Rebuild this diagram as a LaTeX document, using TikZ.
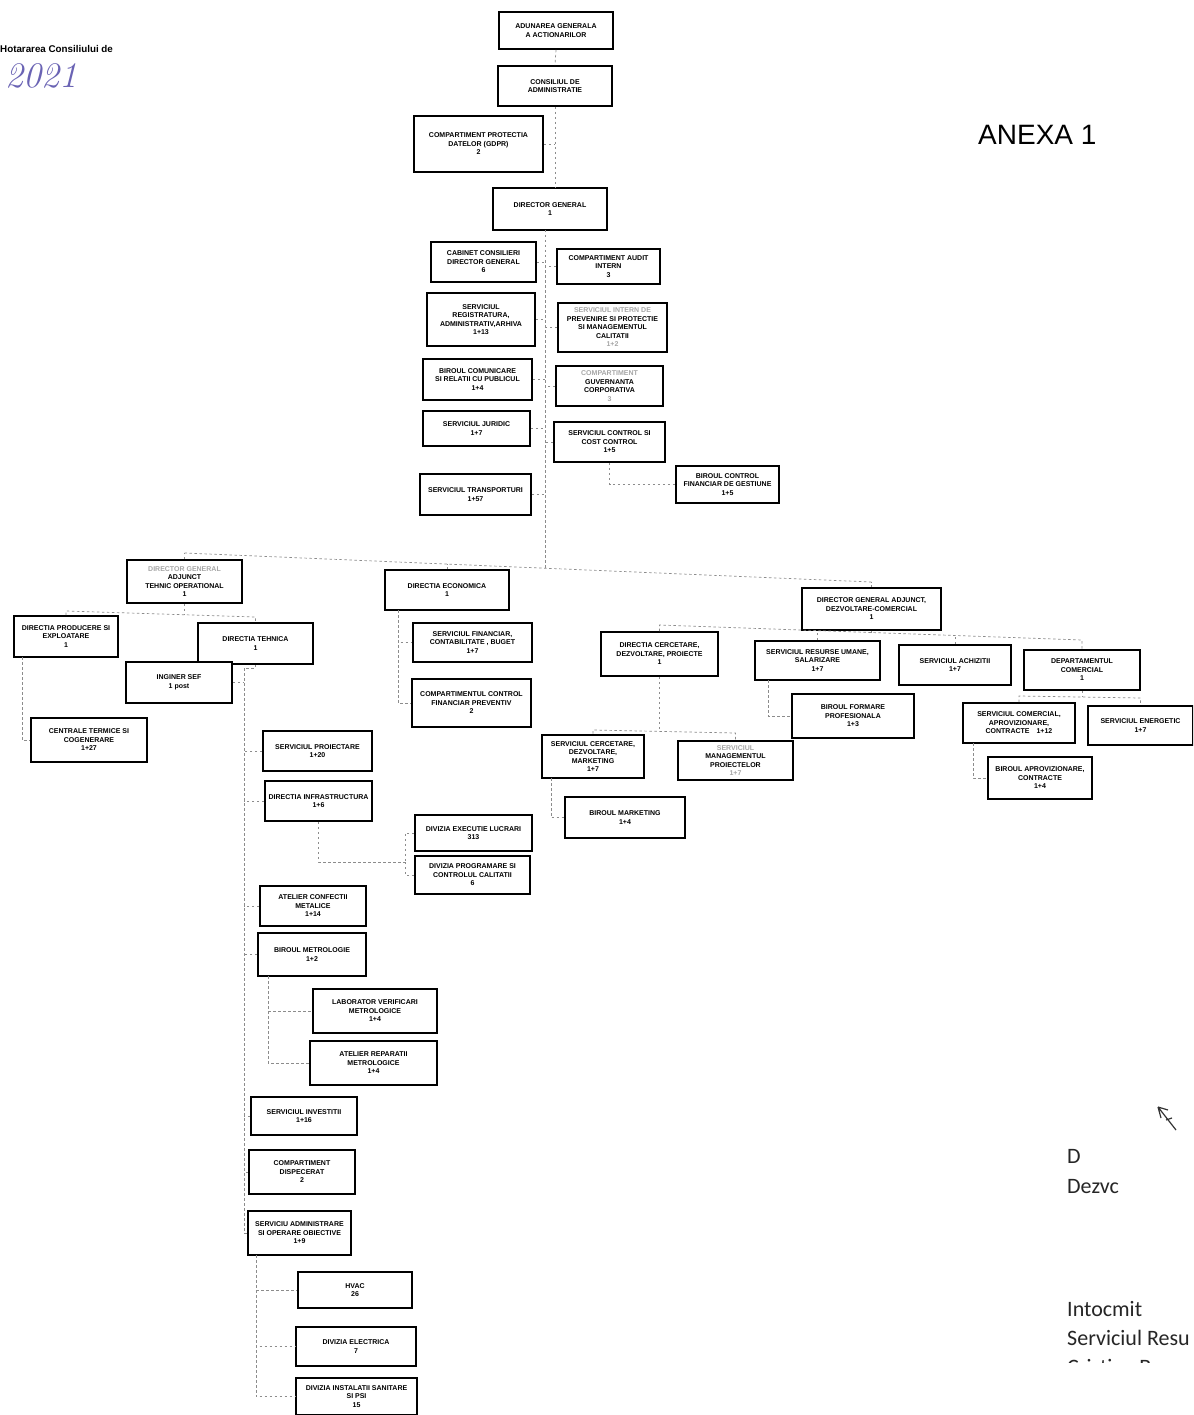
\documentclass[tikz,border=0pt]{standalone}
\usepackage{fontspec}
\newfontfamily\arial{Liberation Sans}
\newfontfamily\calib{Carlito}
\definecolor{hand}{HTML}{6A63B4}
\tikzset{
  box/.style={draw=black, line width=1.8pt, fill=white, align=center, inner sep=1pt,
    font=\arial\bfseries\fontsize{7}{8.5}\selectfont, text=black},
  thickbox/.style={box, line width=2.8pt},
  link/.style={draw=black!45, line width=0.7pt, dash pattern=on 2.5pt off 2.5pt},
  sidetext/.style={anchor=base west, inner sep=0pt, font=\calib\fontsize{22}{26}\selectfont, text=black!85}
}
\newcommand\bx[7][]{\node[box,#1, minimum width=#5pt, minimum height=#6pt] (#2) at (#3,#4) {#7};}
\newcommand\fd[1]{{\color{black!35}#1}}
\begin{document}
\begin{tikzpicture}[x=1pt,y=-1pt]
\fill[white] (0,0) rectangle (1193,1415);
\useasboundingbox (0,0) rectangle (1193,1415);
\begin{scope}
\clip (0,0) rectangle (1193,1415);
% header texts
\node[anchor=base west, inner sep=0pt, font=\arial\bfseries\fontsize{9.8}{11}\selectfont] (hot) at (0,53) {Hotararea Consiliului de};
\node[anchor=west, inner sep=0pt, text=hand, font=\itshape\fontsize{36}{36}\selectfont] (yr) at (5,76) {2021};
\node[anchor=base west, inner sep=0pt, font=\arial\fontsize{28}{30}\selectfont] (anexa) at (978,145) {ANEXA 1};
% top chain
\bx{aga}{556}{30.5}{114}{37}{ADUNAREA GENERALA\\A ACTIONARILOR}
\bx{ca}{555}{86}{114}{40}{CONSILIUL DE\\ADMINISTRATIE}
\bx{gdpr}{478.5}{144}{129}{56}{COMPARTIMENT PROTECTIA\\DATELOR (GDPR)\\2}
\bx{dg}{550}{209}{114}{42}{DIRECTOR GENERAL\\1}
% left column under DG
\bx{cab}{483.5}{262}{105}{40}{CABINET CONSILIERI\\DIRECTOR GENERAL\\6}
\bx{reg}{481}{319.5}{108}{53}{SERVICIUL\\REGISTRATURA,\\ADMINISTRATIV,ARHIVA\\1+13}
\bx{com}{477.5}{379.5}{109}{41}{BIROUL COMUNICARE\\SI RELATII CU PUBLICUL\\1+4}
\bx{jur}{476.5}{428.5}{107}{35}{SERVICIUL JURIDIC\\1+7}
\bx{trans}{475.5}{494.5}{111}{41}{SERVICIUL TRANSPORTURI\\1+57}
% right column under DG
\bx{audit}{608.5}{266.5}{103}{35}{COMPARTIMENT AUDIT\\INTERN\\3}
\bx{prev}{612.5}{327.5}{109}{49}{\fd{SERVICIUL INTERN DE}\\PREVENIRE SI PROTECTIE\\SI MANAGEMENTUL\\CALITATII\\\fd{1+2}}
\bx{guv}{609.5}{386}{107}{40}{\fd{COMPARTIMENT}\\GUVERNANTA\\CORPORATIVA\\\fd{3}}
\bx{cost}{609.5}{442}{111}{40}{SERVICIUL CONTROL SI\\COST CONTROL\\1+5}
\bx{bcf}{727.5}{484.5}{103}{37}{BIROUL CONTROL\\FINANCIAR DE GESTIUNE\\1+5}
% second level
\bx{dgat}{184.5}{581.5}{115}{43}{\fd{DIRECTOR GENERAL}\\ADJUNCT\\TEHNIC OPERATIONAL\\1}
\bx{econ}{447}{590}{124}{40}{DIRECTIA ECONOMICA\\1}
\bx{dgad}{871.5}{609}{139}{42}{DIRECTOR GENERAL ADJUNCT,\\DEZVOLTARE-COMERCIAL\\1}
% technical branch
\bx{prod}{66}{636.5}{104}{41}{DIRECTIA PRODUCERE SI\\EXPLOATARE\\1}
\bx{teh}{255.5}{643.5}{115}{41}{DIRECTIA TEHNICA\\1}
\bx{ing}{179}{682.5}{106}{41}{INGINER SEF\\1 post}
\bx{cent}{89}{740}{116}{44}{CENTRALE TERMICE SI\\COGENERARE\\1+27}
\bx{proi}{317.5}{751}{109}{40}{SERVICIUL PROIECTARE\\1+20}
\bx{infra}{318.5}{801}{107}{40}{DIRECTIA INFRASTRUCTURA\\1+6}
\bx{dex}{473.5}{833}{117}{36}{DIVIZIA EXECUTIE LUCRARI\\313}
\bx{dpc}{472.5}{875}{115}{38}{DIVIZIA PROGRAMARE SI\\CONTROLUL CALITATII\\6}
\bx{acm}{313}{906}{106}{40}{ATELIER CONFECTII\\METALICE\\1+14}
\bx{bmet}{312}{954.5}{108}{43}{BIROUL METROLOGIE\\1+2}
\bx{lab}{375}{1011}{124}{44}{LABORATOR VERIFICARI\\METROLOGICE\\1+4}
\bx{arm}{373.5}{1063}{127}{44}{ATELIER REPARATII\\METROLOGICE\\1+4}
\bx{inv}{304}{1116}{106}{38}{SERVICIUL INVESTITII\\1+16}
\bx{disp}{302}{1172}{106}{44}{COMPARTIMENT\\DISPECERAT\\2}
\bx{adm}{299.5}{1233}{103}{44}{SERVICIU ADMINISTRARE\\SI OPERARE OBIECTIVE\\1+9}
\bx{hvac}{355}{1290}{114}{36}{HVAC\\26}
\bx{elec}{356}{1346.5}{120}{39}{DIVIZIA ELECTRICA\\7}
\bx{san}{356.5}{1396.5}{121}{37}{DIVIZIA INSTALATII SANITARE\\SI PSI\\15}
% economic branch
\bx{fin}{472.5}{642.5}{119}{39}{SERVICIUL FINANCIAR,\\CONTABILITATE , BUGET\\1+7}
\bx{cfp}{471.5}{703}{119}{48}{COMPARTIMENTUL CONTROL\\FINANCIAR PREVENTIV\\2}
% development-commercial branch
\bx{cerc}{659.5}{654}{117}{44}{DIRECTIA CERCETARE,\\DEZVOLTARE, PROIECTE\\1}
\bx{ru}{817.5}{660.5}{125}{39}{SERVICIUL RESURSE UMANE,\\SALARIZARE\\1+7}
\bx{ach}{955}{665}{112}{40}{SERVICIUL ACHIZITII\\1+7}
\bx{dep}{1082}{670}{116}{40}{DEPARTAMENTUL\\COMERCIAL\\1}
\bx{form}{853}{716}{122}{44}{BIROUL FORMARE\\PROFESIONALA\\1+3}
\bx{scom}{1019}{723}{112}{40}{SERVICIUL COMERCIAL,\\APROVIZIONARE,\\CONTRACTE\quad 1+12}
\bx{ener}{1140.5}{725.5}{105}{39}{SERVICIUL ENERGETIC\\1+7}
\bx{aprov}{1040}{778}{104}{42}{BIROUL APROVIZIONARE,\\CONTRACTE\\1+4}
\bx[thickbox]{scm}{593}{756.5}{102}{43}{SERVICIUL CERCETARE,\\DEZVOLTARE,\\MARKETING\\1+7}
\bx{mp}{735.5}{760.5}{115}{39}{\fd{SERVICIUL}\\MANAGEMENTUL\\PROIECTELOR\\\fd{1+7}}
\bx{bm}{625}{817.5}{120}{41}{BIROUL MARKETING\\1+4}
% ---------- connectors ----------
\draw[link] (aga.south) -- (ca.north);
\draw[link] (ca.south) -- (ca.south |- dg.north);
\draw[link] (gdpr.east) -- (gdpr.east -| ca.south);
\coordinate (tt) at (545,230);
\coordinate (tb) at (545,568);
\draw[link] (tt) -- (tb);
\foreach \n in {cab,reg,com,jur,trans} \draw[link] (\n.east) -- (\n.east -| tt);
\foreach \n in {audit,prev,guv,cost} \draw[link] (\n.west) -- (\n.west -| tt);
\draw[link] (cost.south) |- (bcf.west);
\coordinate (bl) at (184.5,553);
\coordinate (br) at (871.5,582);
\draw[link] (bl) -- (br);
\draw[link] (dgat.north) -- (bl);
\coordinate (be) at (447,564);
\draw[link] (econ.north) -- (be);
\draw[link] (dgad.north) -- (br);
% technical subtree
\coordinate (dl) at (66,611);
\coordinate (dr) at (255.5,617);
\coordinate (dm) at (184.5,615);
\draw[link] (prod.north) -- (dl) -- (dr) -- (teh.north);
\draw[link] (dgat.south) -- (dm);
\coordinate (pv) at (22,657);
\draw[link] (pv) |- (cent.west);
\coordinate (tv) at (244,668);
\draw[link] (teh.south) |- (tv) -- (tv |- adm.west) -- (adm.west);
\foreach \n in {proi,infra,acm,bmet,inv,disp} \draw[link] (\n.west) -- (\n.west -| tv);
\draw[link] (ing.east) -- (ing.east -| tv);
\coordinate (iv) at (405,862);
\draw[link] (infra.south) |- (iv);
\draw[link] (dex.west) -| (iv);
\draw[link] (dpc.west) -| (iv);
\coordinate (mv) at (268,976);
\draw[link] (mv) |- (lab.west);
\draw[link] (mv) |- (arm.west);
\coordinate (av) at (256,1255);
\draw[link] (av) |- (hvac.west);
\draw[link] (av) |- (elec.west);
\draw[link] (av) |- (san.west);
% economic subtree
\coordinate (ev) at (398,610);
\draw[link] (ev) |- (fin.west);
\draw[link] (ev) |- (cfp.west);
% development-commercial subtree
\coordinate (dl2) at (659.5,625);
\coordinate (dr2) at (1082,640);
\draw[link] (cerc.north) -- (dl2) -- (dr2) -- (dep.north);
\coordinate (dm2) at (871.5,632.5);
\draw[link] (dgad.south) -- (dm2);
\coordinate (bru) at (817.5,630.6);
\draw[link] (ru.north) -- (bru);
\coordinate (bach) at (955,635.5);
\draw[link] (ach.north) -- (bach);
\coordinate (cbl) at (593,730);
\coordinate (cbr) at (735.5,733);
\coordinate (cb) at (659.5,731.4);
\draw[link] (scm.north) -- (cbl) -- (cbr) -- (mp.north);
\draw[link] (cerc.south) -- (cb);
\coordinate (sv) at (551,778);
\draw[link] (sv) |- (bm.west);
\coordinate (rv) at (768,680);
\draw[link] (rv) |- (form.west);
\coordinate (dpl) at (1019,696);
\coordinate (dpr) at (1140.5,698);
\coordinate (dpb) at (1082,697);
\draw[link] (scom.north) -- (dpl) -- (dpr) -- (ener.north);
\draw[link] (dep.south) -- (dpb);
\coordinate (scv) at (973,743);
\draw[link] (scv) |- (aprov.west);
% side notes
\draw[line width=1.2pt, black!80] (1158,1107) -- (1176,1130) (1158,1107) -- (1161,1118) (1158,1107) -- (1168,1110) (1166,1120) -- (1172,1118);
\node[sidetext] (n1) at (1067,1163) {D};
\node[sidetext] (n2) at (1067,1193) {Dezvc};
\node[sidetext] (n3) at (1067,1316) {Intocmit};
\node[sidetext] (n4) at (1067,1345) {Serviciul Resu};
\begin{scope}
\clip (1000,1350) rectangle (1193,1362);
\node[sidetext] (n5) at (1067,1374) {Cristina Bara};
\end{scope}
\end{scope}
\end{tikzpicture}
\end{document}
